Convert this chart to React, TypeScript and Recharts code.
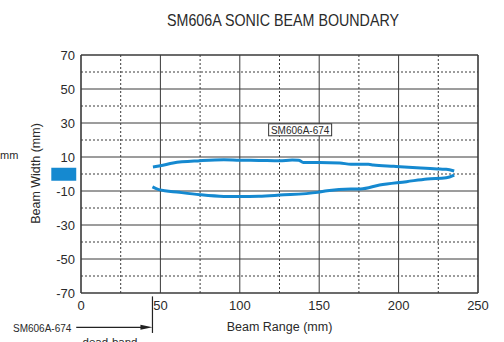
import React from 'react';
import {
  LineChart, Line, XAxis, YAxis, CartesianGrid, ReferenceLine, ReferenceArea, ReferenceDot,
} from 'recharts';

const upperX = [45.3, 50, 58, 75, 90, 100, 112, 125, 133, 137, 140, 150, 163, 170, 181, 184, 197, 214, 226, 230, 235];
const upperY = [4.1, 4.8, 6.5, 7.8, 8.4, 8.1, 8.0, 7.8, 8.2, 8.1, 6.8, 6.8, 6.5, 5.7, 5.7, 5.3, 4.5, 3.5, 2.9, 2.8, 1.8];
const lowerX = [45, 49, 62, 75, 90, 100, 112, 125, 149, 155, 170, 176, 188, 205, 218, 230, 235];
const lowerY = [-7.6, -9.2, -10.8, -12.2, -13.2, -13.3, -13.1, -12.4, -10.8, -9.8, -8.8, -8.8, -6.5, -4.5, -2.9, -2.2, -0.6];

const xTicks = [0, 50, 100, 150, 200, 250];
const yTicks = [70, 50, 30, 10, -10, -30, -50, -70];
const xMinor = [25, 75, 125, 175, 225];
const yMinor = [60, 40, 20, 0, -20, -40, -60];

const deadBand = 45;
const seriesName = 'SM606A-674';
const labelPos = { x: 138, y: 26 };

const upper = upperX.map((x, i) => ({ x, y: upperY[i] }));
const lower = lowerX.map((x, i) => ({ x, y: lowerY[i] }));

const FONT = '"Liberation Sans", Arial, Helvetica, sans-serif';
const BLUE = '#1589d0';
const GRID = '#3a3a3a';
const TEXT = '#2a2a2a';

const LabelBox = (p: any) => (
  <g>
    <rect x={p.cx - 31.5} y={p.cy - 6} width={63} height={12} fill="#fff" stroke="#333" strokeWidth={1} />
    <text x={p.cx} y={p.cy + 3.8} textAnchor="middle" fontSize={10} fontFamily={FONT} fill={TEXT}>{seriesName}</text>
  </g>
);

const Arrowhead = (p: any) => (
  <polygon points={`${p.cx},${p.cy} ${p.cx - 12},${p.cy - 2.5} ${p.cx - 12},${p.cy + 2.5}`} fill="#222" />
);

export default function App() {
  return (
    <div style={{ position: 'absolute', left: 0, top: 0, width: 504, height: 342, background: '#fff' }}>
      <LineChart
        width={504}
        height={342}
        margin={{ top: 55, right: 26, left: 1, bottom: 19 }}
      >
        <CartesianGrid stroke={GRID} strokeWidth={1} horizontal vertical />
        {xMinor.map((v) => (
          <ReferenceLine key={'vx' + v} x={v} stroke={GRID} strokeDasharray="2 2" strokeWidth={1} />
        ))}
        {yMinor.map((v) => (
          <ReferenceLine key={'hy' + v} y={v} stroke={GRID} strokeDasharray="2 2" strokeWidth={1} />
        ))}
        <ReferenceLine x={250} stroke={GRID} strokeWidth={1.2} />
        <ReferenceLine y={70} stroke={GRID} strokeWidth={1.2} />
        <XAxis
          type="number"
          dataKey="x"
          domain={[0, 250]}
          ticks={xTicks}
          allowDataOverflow
          height={30}
          tickSize={0}
          tickMargin={8}
          axisLine={{ stroke: GRID, strokeWidth: 1.2 }}
          tick={{ fontSize: 13, fontFamily: FONT, fill: TEXT }}
        />
        <YAxis
          type="number"
          dataKey="y"
          domain={[-70, 70]}
          ticks={yTicks}
          allowDataOverflow
          width={80}
          tickSize={0}
          tickMargin={6}
          axisLine={{ stroke: GRID, strokeWidth: 1.2 }}
          tick={{ fontSize: 13, fontFamily: FONT, fill: TEXT }}
        />
        <Line data={upper} dataKey="y" type="monotone" stroke={BLUE} strokeWidth={3} dot={false} isAnimationActive={false} />
        <Line data={lower} dataKey="y" type="monotone" stroke={BLUE} strokeWidth={3} dot={false} isAnimationActive={false} />
        <ReferenceDot x={labelPos.x} y={labelPos.y} shape={LabelBox} ifOverflow="visible" />
        <ReferenceArea x1={-18.7} x2={-3} y1={-3.9} y2={3.7} fill={BLUE} fillOpacity={1} stroke="none" ifOverflow="visible" />
        <ReferenceLine
          segment={[{ x: deadBand, y: -72 }, { x: deadBand, y: -93.5 }]}
          stroke="#222"
          strokeWidth={1.2}
          ifOverflow="visible"
        />
        <ReferenceLine
          segment={[{ x: -3, y: -90.2 }, { x: deadBand - 6, y: -90.2 }]}
          stroke="#222"
          strokeWidth={1.2}
          ifOverflow="visible"
        />
        <ReferenceDot x={deadBand} y={-90.2} shape={Arrowhead} ifOverflow="visible" />
      </LineChart>
      <svg
        width={504}
        height={342}
        style={{ position: 'absolute', left: 0, top: 0, pointerEvents: 'none' }}
      >
        <text
          x={283}
          y={26}
          textAnchor="middle"
          fontSize={17}
          fontFamily={FONT}
          fill={TEXT}
          textLength={232}
          lengthAdjust="spacingAndGlyphs"
        >
          SM606A SONIC BEAM BOUNDARY
        </text>
        <text x={279.5} y={331} textAnchor="middle" fontSize={12.5} fontFamily={FONT} fill={TEXT}>
          Beam Range (mm)
        </text>
        <text
          x={36}
          y={173.5}
          textAnchor="middle"
          dominantBaseline="central"
          fontSize={12.5}
          fontFamily={FONT}
          fill={TEXT}
          transform="rotate(-90, 36, 173.5)"
        >
          Beam Width (mm)
        </text>
        <text x={0} y={159} textAnchor="start" fontSize={11} fontFamily={FONT} fill={TEXT}>
          mm
        </text>
        <text x={13} y={331.5} textAnchor="start" fontSize={10} fontFamily={FONT} fill={TEXT}>
          {seriesName}
        </text>
        <text x={110} y={346} textAnchor="middle" fontSize={11.5} fontFamily={FONT} fill={TEXT}>
          dead-band
        </text>
      </svg>
    </div>
  );
}
